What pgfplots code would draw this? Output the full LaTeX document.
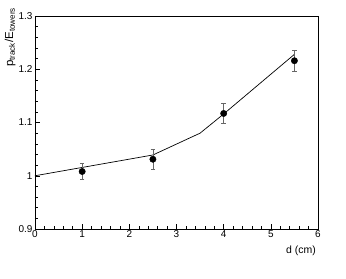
\documentclass[border=0pt]{standalone}
\usepackage{fontspec}
\setmainfont{Liberation Sans}
\usepackage{pgfplots}
\pgfplotsset{compat=1.18}
\usetikzlibrary{calc}
\begin{document}
\begin{tikzpicture}
\begin{axis}[name=ax, scale only axis, width=283bp, height=213bp,
  xmin=0, xmax=6, ymin=0.9, ymax=1.3,
  xtick={0,1,2,3,4,5,6}, ytick={0.9,1,1.1,1.2,1.3},
  minor x tick num=4, minor y tick num=4,
  xtick pos=bottom, ytick pos=left, tick align=inside,
  major tick length=5bp, minor tick length=3bp,
  tick style={black, line width=0.5pt},
  axis line style={line width=0.6pt},
  /pgf/number format/assume math mode=true,
  ticklabel style={font=\fontsize{10}{11}\selectfont},
  xticklabel style={yshift=2bp},
  yticklabel style={xshift=1bp},
  xlabel={d (cm)}, ylabel={p$_{\mathrm{track}}$/E$_{\mathrm{towers}}$},
  xlabel style={at={(axis description cs:0.94,-0.103)}, anchor=center, font=\fontsize{10.5}{11}\selectfont},
  ylabel style={at={(axis description cs:-0.088,0.90)}, anchor=center, font=\fontsize{11.5}{12}\selectfont},
  clip=false]
\addplot[black, line width=0.7pt] coordinates {(0,1.0) (2.5,1.039) (3.5,1.080) (4,1.116) (5.5,1.228)};
\addplot[only marks, mark=*, mark size=3.2pt, mark options={black}, black,
  error bars/.cd, y dir=both, y explicit,
  error bar style={gray!80!black, line width=0.5pt},
  error mark options={rotate=90, mark size=2.2pt, gray!80!black, line width=0.5pt}]
  coordinates {(1,1.008) +- (0,0.015) (2.5,1.031) +- (0,0.018) (4,1.117) +- (0,0.019) (5.5,1.216) +- (0,0.020)};
\end{axis}
\pgfresetboundingbox
\path[use as bounding box] ($(ax.south west)+(-35bp,-50bp)$) rectangle ($(ax.north east)+(28bp,16bp)$);
\end{tikzpicture}
\end{document}
